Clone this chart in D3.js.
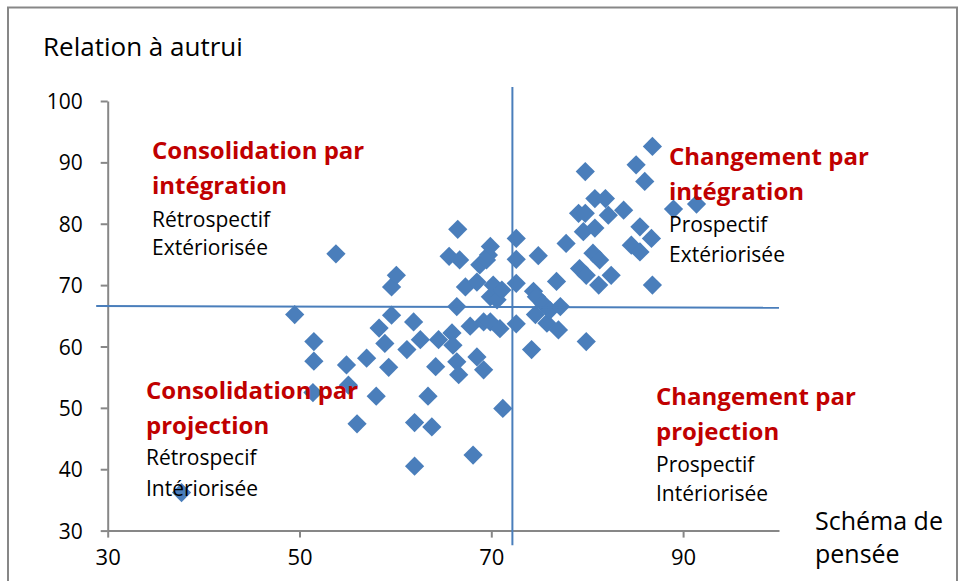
<!DOCTYPE html>
<html>
<head>
<meta charset="utf-8">
<script src="https://cdn.jsdelivr.net/npm/d3@7"></script>
<style>
  html, body { margin: 0; padding: 0; background: #fff; }
  svg { display: block; font-family: "Open Sans", sans-serif; }
</style>
</head>
<body>
<svg id="chart" width="958" height="581"></svg>
<script>
// Scores per respondent: Schéma de pensée (x) and Relation à autrui (y)
const schemaPensee = [
  37.7, 49.5, 51.5, 51.5, 51.4, 53.8, 54.9, 55.1, 56.0, 57.0,
  58.0, 58.3, 58.9, 59.3, 59.6, 59.6, 60.1, 61.2, 61.9, 62.0,
  62.0, 62.6, 63.4, 63.8, 64.2, 64.5, 65.6, 65.9, 66.0, 66.4,
  66.4, 66.5, 66.6, 66.7, 67.3, 67.8, 68.1, 68.5, 68.5, 68.8,
  69.2, 69.2, 69.5, 69.7, 69.9, 69.9, 69.9, 70.2, 70.6, 70.9,
  71.1, 71.2, 72.6, 72.6, 72.6, 72.6, 74.4, 74.7, 74.9, 75.4,
  74.6, 75.8, 74.2, 76.1, 76.8, 77.0, 77.2, 77.8, 79.1, 79.8,
  79.8, 79.6, 79.2, 79.9, 79.9, 80.6, 80.8, 80.8, 81.3, 81.2,
  81.9, 82.2, 82.5, 83.8, 84.6, 85.1, 85.5, 85.5, 86.0, 86.7,
  86.8, 86.8, 89.0, 91.4
];
const relationAutrui = [
  36.2, 65.2, 60.8, 57.6, 52.5, 75.1, 57.0, 53.7, 47.4, 58.1,
  51.9, 63.0, 60.5, 56.6, 65.1, 69.7, 71.6, 59.5, 64.0, 47.6,
  40.5, 61.1, 51.9, 46.9, 56.7, 61.1, 74.7, 62.2, 60.2, 66.5,
  57.5, 79.1, 55.4, 74.1, 69.7, 63.3, 42.3, 70.5, 58.3, 73.3,
  64.0, 56.2, 74.1, 74.9, 76.3, 68.1, 64.0, 70.0, 67.6, 62.9,
  69.2, 49.9, 77.6, 74.2, 70.3, 63.7, 69.0, 68.1, 74.8, 67.0,
  65.2, 63.8, 59.5, 65.9, 70.6, 62.7, 66.5, 76.8, 81.7, 81.7,
  88.5, 78.7, 72.7, 71.6, 60.8, 75.2, 79.3, 84.1, 74.1, 70.0,
  84.1, 81.4, 71.6, 82.2, 76.5, 89.6, 79.5, 75.4, 86.9, 77.6,
  92.6, 70.0, 82.4, 83.2
];

// Quadrant dividers
const dividerH = [{ x: 28.8, y: 66.6 }, { x: 100, y: 66.3 }];
const dividerV = [{ x: 72.2, y: 27.6 }, { x: 72.2, y: 102.3 }];

const xTicks = [30, 50, 70, 90];
const yTicks = [30, 40, 50, 60, 70, 80, 90, 100];

const quadrants = [
  { title: ["Consolidation par", "intégration"], sub: ["Rétrospectif", "Extériorisée"], x: 152, y: [159, 194, 227, 255] },
  { title: ["Changement par", "intégration"], sub: ["Prospectif", "Extériorisée"], x: 669, y: [165, 200, 232, 262] },
  { title: ["Consolidation par", "projection"], sub: ["Rétrospecif", "Intériorisée"], x: 146, y: [399, 434, 465, 496] },
  { title: ["Changement par", "projection"], sub: ["Prospectif", "Intériorisée"], x: 656, y: [405, 440, 472, 501] }
];

const svg = d3.select("#chart");
const axisColor = "#878787";
const markColor = "#4a7ebb";

const x = d3.scaleLinear().domain([30, 100]).range([107.7, 779]);
const y = d3.scaleLinear().domain([30, 100]).range([530.6, 101]);

// Outer frame
svg.append("rect")
  .attr("x", 8).attr("y", 7.5)
  .attr("width", 949).attr("height", 600)
  .attr("fill", "none").attr("stroke", axisColor).attr("stroke-width", 2);

// Axes
const xAxis = d3.axisBottom(x).tickValues(xTicks).tickSize(7).tickPadding(12).tickSizeOuter(0);
const yAxis = d3.axisLeft(y).tickValues(yTicks).tickSize(7).tickPadding(18).tickSizeOuter(0);

const gx = svg.append("g").attr("transform", `translate(0,${y(30)})`).call(xAxis);
const gy = svg.append("g").attr("transform", `translate(${x(30)},0)`).call(yAxis);

[gx, gy].forEach(g => {
  g.select(".domain").attr("stroke", axisColor).attr("stroke-width", 2);
  g.selectAll(".tick line").attr("stroke", axisColor).attr("stroke-width", 2);
  g.selectAll(".tick text").attr("fill", "#000").attr("font-family", "'Open Sans', sans-serif");
});
gx.selectAll(".tick text").attr("font-size", 22);
gy.selectAll(".tick text").attr("font-size", 21).attr("dy", "0.36em");

// Scatter points (diamonds)
const pts = schemaPensee.map((v, i) => ({ x: v, y: relationAutrui[i] }));
const diamond = d3.symbol().type(d3.symbolSquare).size(185);
svg.append("g").selectAll("path").data(pts).join("path")
  .attr("d", diamond)
  .attr("transform", d => `translate(${x(d.x)},${y(d.y)}) rotate(45)`)
  .attr("fill", markColor);

// Divider lines
const line = d3.line().x(d => x(d.x)).y(d => y(d.y));
[dividerH, dividerV].forEach(seg => {
  svg.append("path").attr("d", line(seg))
    .attr("fill", "none").attr("stroke", markColor).attr("stroke-width", 2);
});

// Axis titles
svg.append("text").attr("x", 43).attr("y", 56)
  .attr("font-size", 26).attr("fill", "#000").text("Relation à autrui");
svg.append("text").attr("x", 815).attr("y", 530)
  .attr("font-size", 25).attr("fill", "#000").text("Schéma de");
svg.append("text").attr("x", 815).attr("y", 563)
  .attr("font-size", 25).attr("fill", "#000").text("pensée");

// Quadrant labels
quadrants.forEach(q => {
  const g = svg.append("g");
  q.title.forEach((t, i) => {
    g.append("text").attr("x", q.x).attr("y", q.y[i])
      .attr("font-size", 24).attr("font-weight", 700).attr("fill", "#c00000").text(t);
  });
  q.sub.forEach((t, i) => {
    g.append("text").attr("x", q.x).attr("y", q.y[i + 2])
      .attr("font-size", 21).attr("fill", "#000").text(t);
  });
});
</script>
</body>
</html>
